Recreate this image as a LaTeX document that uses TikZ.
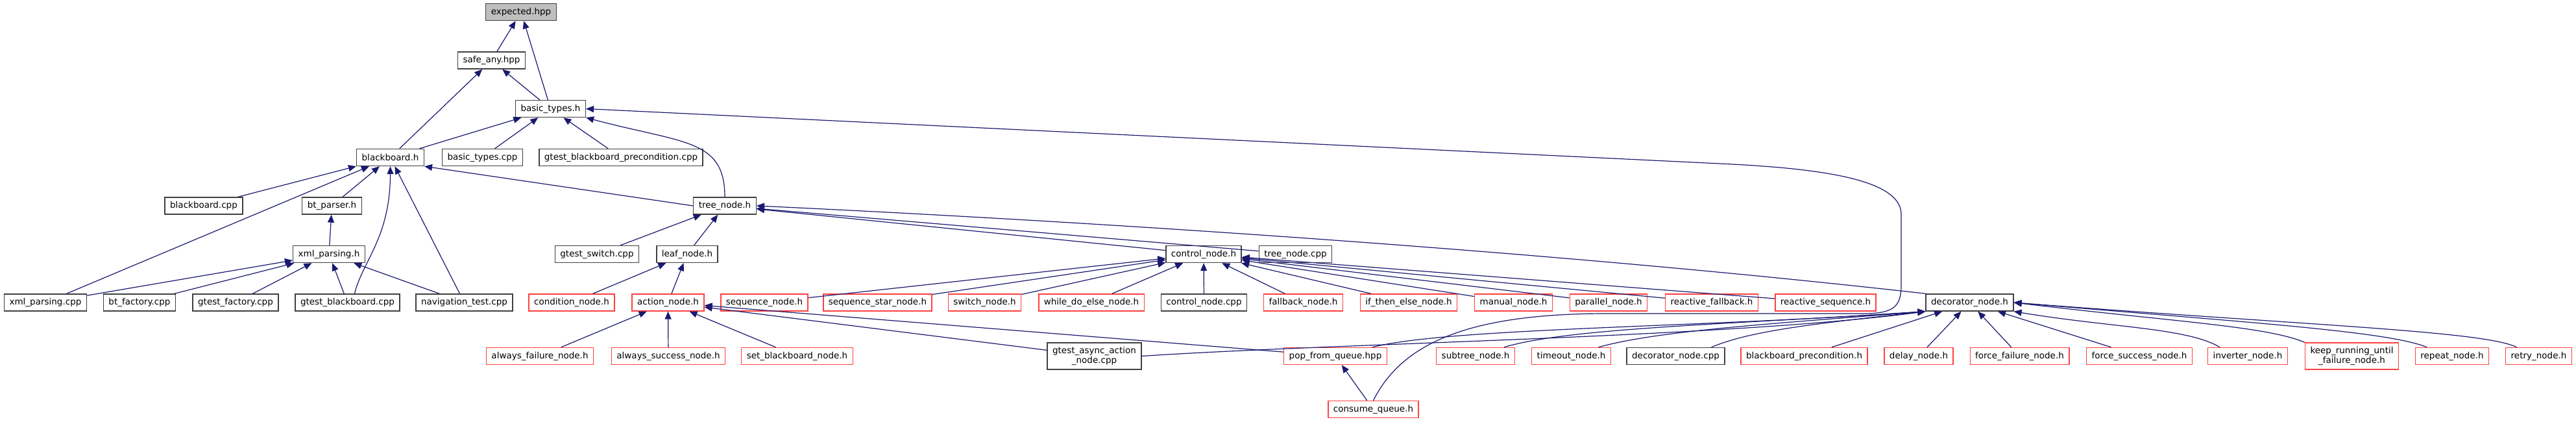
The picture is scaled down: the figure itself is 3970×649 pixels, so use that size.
\documentclass[tikz,border=0pt]{standalone}
\usepackage{fontspec}
\setmainfont{DejaVu Sans}
\usetikzlibrary{arrows.meta, positioning}
\definecolor{edgeblue}{HTML}{191970}
\definecolor{boxgray}{HTML}{404040}
\definecolor{boxred}{HTML}{FF4040}

\begin{document}
\begin{tikzpicture}[x=1pt, y=-1pt,
  file/.style={draw=boxgray, line width=1.4pt, fill=white, inner xsep=8pt,
               minimum height=26pt, align=center, font=\fontsize{13.5pt}{15pt}\selectfont},
  trunc/.style={file, draw=boxred},
  cur/.style={file, fill=black!25},
  dep/.style={{Triangle[length=12pt, width=10pt]}-, draw=edgeblue, line width=1.2pt}
]
\useasboundingbox (0,0) rectangle (3970,649);
% top of the graph
\node[cur]  (expected)       at (803,18.5)   {expected.hpp};
\node[file] (safeany)        at (757.5,93)   {safe\_any.hpp};
\node[file] (basictypes)     at (848.5,167.5) {basic\_types.h};
\node[file] (blackboard)     at (601.5,242.5) {blackboard.h};
\node[file] (basictypescpp)  at (743.5,242.5) {basic\_types.cpp};
\node[file] (gtestbbprecond) at (957,242.5)  {gtest\_blackboard\_precondition.cpp};
\node[file] (blackboardcpp)  at (314,317)    {blackboard.cpp};
\node[file] (btparser)       at (511.5,317)  {bt\_parser.h};
\node[file] (treenode)       at (1117,317)   {tree\_node.h};
\node[file] (xmlparsingh)    at (507,391.5)  {xml\_parsing.h};
\node[file] (gtestswitch)    at (920,391.5)  {gtest\_switch.cpp};
\node[file] (leafnode)       at (1059,391.5) {leaf\_node.h};
\node[file] (controlnode)    at (1855,391.5) {control\_node.h};
\node[file] (treenodecpp)    at (1996.5,391.5) {tree\_node.cpp};
% middle row
\node[file]  (xmlparsingcpp)    at (70,466)     {xml\_parsing.cpp};
\node[file]  (btfactory)        at (215,466)    {bt\_factory.cpp};
\node[file]  (gtestfactory)     at (363,466)    {gtest\_factory.cpp};
\node[file]  (gtestblackboard)  at (535.5,466)  {gtest\_blackboard.cpp};
\node[file]  (navtest)          at (715.5,466)  {navigation\_test.cpp};
\node[trunc] (conditionnode)    at (881,466)    {condition\_node.h};
\node[trunc] (actionnode)       at (1029.5,466) {action\_node.h};
\node[trunc] (sequencenode)     at (1178,466)   {sequence\_node.h};
\node[trunc] (sequencestar)     at (1352.5,466) {sequence\_star\_node.h};
\node[trunc] (switchnode)       at (1517.5,466) {switch\_node.h};
\node[trunc] (whiledoelse)      at (1682,466)   {while\_do\_else\_node.h};
\node[file]  (controlnodecpp)   at (1855.5,466) {control\_node.cpp};
\node[trunc] (fallbacknode)     at (2008.5,466) {fallback\_node.h};
\node[trunc] (ifthenelse)       at (2171,466)   {if\_then\_else\_node.h};
\node[trunc] (manualnode)       at (2332.5,466) {manual\_node.h};
\node[trunc] (parallelnode)     at (2479,466)   {parallel\_node.h};
\node[trunc] (reactivefallback) at (2638,466)   {reactive\_fallback.h};
\node[trunc] (reactivesequence) at (2813.5,466) {reactive\_sequence.h};
\node[file]  (decoratornode)    at (3035.5,466) {decorator\_node.h};
% lower rows
\node[trunc] (alwaysfailure)    at (832,548.5)  {always\_failure\_node.h};
\node[trunc] (alwayssuccess)    at (1030,548.5) {always\_success\_node.h};
\node[trunc] (setblackboard)    at (1228.5,548.5) {set\_blackboard\_node.h};
\node[file, minimum height=41pt] (gtestasync) at (1686.5,548.5) {gtest\_async\_action\\\_node.cpp};
\node[trunc] (popfromqueue)     at (2058,548.5) {pop\_from\_queue.hpp};
\node[trunc] (subtreenode)      at (2274,548.5) {subtree\_node.h};
\node[trunc] (timeoutnode)      at (2421.5,548.5) {timeout\_node.h};
\node[file]  (decoratornodecpp) at (2582.5,548.5) {decorator\_node.cpp};
\node[trunc] (bbprecondh)       at (2780.5,548.5) {blackboard\_precondition.h};
\node[trunc] (delaynode)        at (2957,548.5) {delay\_node.h};
\node[trunc] (forcefailure)     at (3112.5,548.5) {force\_failure\_node.h};
\node[trunc] (forcesuccess)     at (3297,548.5) {force\_success\_node.h};
\node[trunc] (inverternode)     at (3464,548.5) {inverter\_node.h};
\node[trunc, minimum height=41pt] (keeprunning) at (3624.5,548.5) {keep\_running\_until\\\_failure\_node.h};
\node[trunc] (repeatnode)       at (3779,548.5) {repeat\_node.h};
\node[trunc] (retrynode)        at (3912.5,548.5) {retry\_node.h};
\node[trunc] (consumequeue)     at (2116.5,630.5) {consume\_queue.h};
% includes
\draw[dep] (expected) -- (safeany);
\draw[dep] (expected) -- (basictypes);
\draw[dep] (safeany) -- (blackboard);
\draw[dep] (safeany) -- (basictypes);
\draw[dep] (basictypes) -- (blackboard);
\draw[dep] (basictypes) -- (basictypescpp);
\draw[dep] (basictypes) -- (gtestbbprecond);
\draw[dep] (basictypes.south east) .. controls +(150,40) and +(0,-90) .. (treenode.north);
\draw[dep] (basictypes.east) -- (2650,252) .. controls (2800,259) and (2930,275) .. (2930,330)
  -- (2930,440) .. controls (2930,475) and (2915,483) .. (2870,483) -- (2470,483)
  .. controls (2260,484) and (2160,530) .. (consumequeue.north);
\draw[dep] (blackboard) -- (blackboardcpp);
\draw[dep] (blackboard) -- (btparser);
\draw[dep] (blackboard) -- (xmlparsingcpp);
\draw[dep] (blackboard.south) .. controls +(0,110) and +(12,-50) .. ([xshift=11pt]gtestblackboard.north);
\draw[dep] (blackboard) -- (navtest);
\draw[dep] (blackboard.south east) -- (treenode.west);
\draw[dep] (btparser) -- (xmlparsingh);
\foreach \n in {xmlparsingcpp, btfactory, gtestfactory, gtestblackboard, navtest}
  \draw[dep] (xmlparsingh) -- (\n);
\foreach \n in {gtestswitch, leafnode, controlnode, treenodecpp}
  \draw[dep] (treenode) -- (\n);
\draw[dep] (treenode.east) .. controls (1700,342) and (2400,388) .. (decoratornode.north west);
\draw[dep] (leafnode) -- (conditionnode);
\draw[dep] (leafnode) -- (actionnode);
\foreach \n in {sequencenode, sequencestar, switchnode, whiledoelse, controlnodecpp, fallbacknode,
                ifthenelse, manualnode, parallelnode, reactivefallback, reactivesequence}
  \draw[dep] (controlnode) -- (\n);
\foreach \n in {alwaysfailure, alwayssuccess, setblackboard, gtestasync, popfromqueue}
  \draw[dep] (actionnode) -- (\n);
\draw[dep] (popfromqueue) -- (consumequeue);
% decorator fan
\draw[dep] (decoratornode.south west) .. controls +(-300,40) and +(300,-20) .. (gtestasync.east);
\draw[dep] (decoratornode.south west) .. controls +(-350,25) and +(120,-30) .. ([xshift=57pt]popfromqueue.north);
\draw[dep] (decoratornode.south west) .. controls +(-300,20) and +(100,-30) .. ([xshift=44pt]subtreenode.north);
\draw[dep] (decoratornode.south west) .. controls +(-250,20) and +(90,-25) .. ([xshift=42pt]timeoutnode.north);
\draw[dep] (decoratornode.south west) .. controls +(-180,20) and +(60,-25) .. ([xshift=55pt]decoratornodecpp.north);
\foreach \n in {bbprecondh, delaynode, forcefailure, forcesuccess}
  \draw[dep] (decoratornode) -- (\n);
\draw[dep] (decoratornode.south east) .. controls +(150,25) and +(-50,-30) .. ([xshift=-43pt]inverternode.north);
\draw[dep] (decoratornode.east) .. controls +(250,30) and +(-60,-25) .. (keeprunning.north west);
\draw[dep] (decoratornode.east) .. controls +(350,30) and +(-60,-25) .. ([xshift=-39pt]repeatnode.north);
\draw[dep] (decoratornode.east) .. controls +(450,35) and +(-50,-25) .. ([xshift=-34pt]retrynode.north);
\end{tikzpicture}
\end{document}
